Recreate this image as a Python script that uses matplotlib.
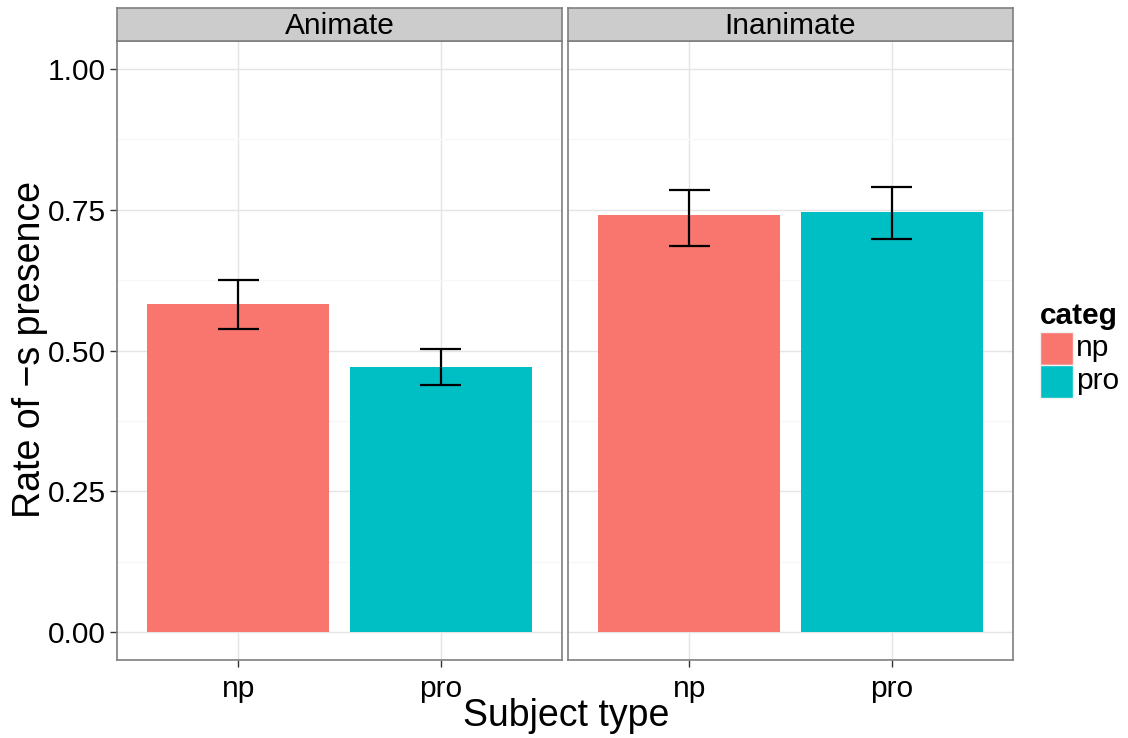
"""Faceted bar chart: rate of -s presence by subject type and animacy."""
import matplotlib
matplotlib.use("Agg")
import matplotlib.pyplot as plt
from matplotlib.patches import Rectangle

plt.rcParams["font.family"] = ["Liberation Sans", "DejaVu Sans"]

panels = ["Animate", "Inanimate"]
categories = ["np", "pro"]
rates = {"Animate": [0.583, 0.471], "Inanimate": [0.740, 0.747]}
err_low = {"Animate": [0.539, 0.439], "Inanimate": [0.686, 0.699]}
err_high = {"Animate": [0.625, 0.503], "Inanimate": [0.786, 0.790]}
colors = {"np": "#F8766D", "pro": "#00BFC4"}
yticks = [0.0, 0.25, 0.5, 0.75, 1.0]
ytick_labels = ["0.00", "0.25", "0.50", "0.75", "1.00"]

W, H = 1128, 738
fig = plt.figure(figsize=(W / 100, H / 100), dpi=100)

border = "#7F7F7F"
panel_lefts = [117, 568]
panel_w, top, bottom, strip_h = 445, 41, 660, 33
small, big = 21.5, 27

for i, (name, left) in enumerate(zip(panels, panel_lefts)):
    ax = fig.add_axes([left / W, (H - bottom) / H, panel_w / W, (bottom - top) / H])
    x = [1, 2]
    ax.bar(x, rates[name], width=0.9, color=[colors[c] for c in categories], zorder=3)
    ax.vlines(x, err_low[name], err_high[name], color="black", lw=1.6, zorder=4)
    ax.hlines(err_low[name], [v - 0.1 for v in x], [v + 0.1 for v in x],
              color="black", lw=1.6, zorder=4)
    ax.hlines(err_high[name], [v - 0.1 for v in x], [v + 0.1 for v in x],
              color="black", lw=1.6, zorder=4)

    ax.set_xlim(0.4, 2.6)
    ax.set_ylim(-0.05, 1.05)
    ax.set_xticks(x)
    ax.set_xticklabels(categories)
    ax.set_yticks(yticks)
    ax.set_yticks([0.125, 0.375, 0.625, 0.875], minor=True)
    ax.grid(which="major", color="#E5E5E5", lw=1.0, zorder=0)
    ax.grid(which="minor", axis="y", color="#F7F7F7", lw=1.0, zorder=0)
    ax.set_axisbelow(True)
    for sp in ax.spines.values():
        sp.set_color(border)
        sp.set_linewidth(1.2)
    ax.tick_params(axis="both", which="major", labelsize=small, length=5,
                   width=1.0, color="#333333", pad=3)
    ax.tick_params(axis="both", which="minor", length=0)
    ax.tick_params(axis="x", pad=6)
    if i == 0:
        ax.set_yticklabels(ytick_labels)
    else:
        ax.tick_params(axis="y", which="both", left=False, labelleft=False)

    # facet strip
    sax = fig.add_axes([left / W, (H - top) / H, panel_w / W, strip_h / H])
    sax.set_xticks([])
    sax.set_yticks([])
    sax.set_facecolor("#CCCCCC")
    for sp in sax.spines.values():
        sp.set_color(border)
        sp.set_linewidth(1.2)
    sax.text(0.5, 0.45, name, ha="center", va="center", fontsize=small,
             transform=sax.transAxes)

fig.text(30 / W, 1 - 350 / H, "Rate of \u2212s presence", rotation=90,
         ha="center", va="center", fontsize=big)
fig.text(566 / W, 1 - 716 / H, "Subject type", ha="center", va="center",
         fontsize=big)

# legend
fig.text(1040 / W, 1 - 316 / H, "categ", ha="left", va="center",
         fontsize=small, fontweight="bold")
for k, cat in enumerate(categories):
    y0 = 332 + k * 33
    fig.patches.append(Rectangle((1040 / W, 1 - (y0 + 33) / H), 33 / W, 33 / H,
                                 transform=fig.transFigure, facecolor=colors[cat],
                                 edgecolor="#F2F2F2", lw=1.0))
    fig.text(1076 / W, 1 - (y0 + 16.5) / H, cat, ha="left", va="center",
             fontsize=small)

fig.savefig("out.png", dpi=100)
